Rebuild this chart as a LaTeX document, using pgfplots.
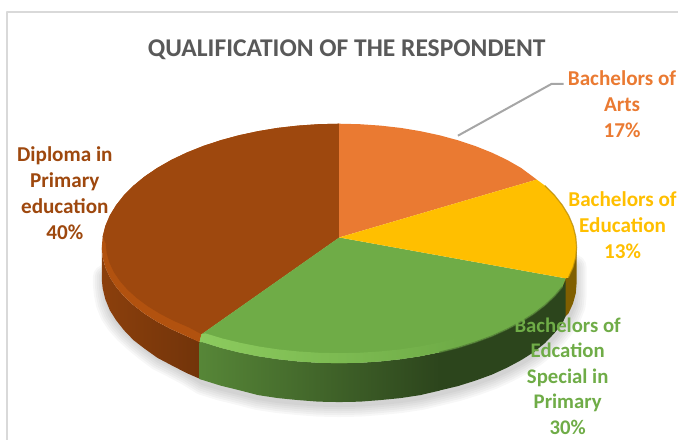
\documentclass[border=0pt]{standalone}
\usepackage{pgfplots}
\pgfplotsset{compat=1.18}
\usepackage{fontspec}
\setmainfont{Carlito}
\definecolor{cOrange}{HTML}{EA7A32}
\definecolor{cYellow}{HTML}{FFBF00}
\definecolor{cGreen}{HTML}{6FAC47}
\definecolor{cBrown}{HTML}{9E480E}
\definecolor{cTitle}{HTML}{595959}
\definecolor{cHigh}{HTML}{8CCB5E}
\definecolor{cBand}{HTML}{B2520F}
\begin{document}
\begin{tikzpicture}
\begin{axis}[
  width=680pt,height=441pt,scale only axis,
  xmin=0,xmax=680,ymin=0,ymax=441,y dir=reverse,
  axis line style={draw=none},ticks=none,clip=false,
  every axis plot/.append style={mark=none,line join=round},
]
% frame
\addplot[draw=black!15,line width=1.5pt] coordinates {(7,441) (7,12) (680,12)};
% shadow
\pgfplotsinvokeforeach{26,22,18,14,10,6}{
\addplot[draw=black,opacity=0.03,line width=#1pt,line cap=round] coordinates {(106,278) (106,284) (107,294) (109,304) (113,314) (119,323) (127,332) (137,341) (148,350) (160,359) (174,366) (189,374) (203.5,383) (221,388.5) (239.4,393) (258.6,398) (278.4,401) (298.7,403) (319.3,404.6) (340,405) (360.7,404.6) (381.3,403) (401.6,401) (421.4,398) (440.6,393.5) (459,389) (476.5,383.5) (493,377.5) (508.3,370.5) (522.3,363) (535,355) (546.1,346) (555.7,336) (563.6,326) (570,316) (574,306) (575,296) (575,284) (575,268)};
}
% yellow side
\addplot[draw=none,fill=cYellow!50!black] coordinates {(560,281) (569.9,278) (574.4,268.1) (577.1,258.1) (578,248) (578,283) (577.1,294) (574.4,304) (569.9,314) (567,317) (560,317)};
% brown side
\addplot[draw=none,left color=cBrown!88!black,right color=cBrown!72!black] coordinates {(201,343) (187,336.9) (171.7,330) (157.7,322.6) (145,314.5) (133.9,306) (124.3,297) (116.4,287.7) (110.1,278) (105.6,268.1) (102.9,258.1) (102,248) (102,280) (102.9,289) (105.6,300) (110.1,311) (116.4,321) (124.3,331) (133.9,341) (145,349.5) (157.7,358.6) (171.7,366) (187,373.9) (201,380)};
% green side, gradient part then dark part
\addplot[draw=none,left color=cGreen!78!black,right color=cGreen!40!black] coordinates {(200,343) (203.5,343) (221,348.5) (239.4,353.1) (258.6,357) (278.4,360) (298.7,362.2) (319.3,363.6) (340,364) (360.7,363.6) (381.3,362.2) (401.6,360) (421.4,357) (440.6,353.1) (440.6,391.5) (421.4,396) (401.6,399) (381.3,401) (360.7,402.6) (340,403) (319.3,402.6) (298.7,401) (278.4,399) (258.6,396) (239.4,391) (221,386.5) (203.5,381) (200,380)};
\addplot[draw=none,fill=cGreen!40!black] coordinates {(440,353.1) (459,348.5) (476.5,343) (493,336.9) (508.3,330) (522.3,322.6) (535,314.5) (546.1,306) (555.7,297) (563.6,287.7) (567,281) (567,317) (563.6,324) (555.7,334) (546.1,344) (535,353) (522.3,361) (508.3,368.5) (493,375.5) (476.5,381.5) (459,387) (440,391.5)};
% brown top: bevel then flat
\addplot[draw=none,fill=cBand] coordinates {(340,238) (202,335) (200,343) (187,336.9) (171.7,330) (157.7,322.6) (145,314.5) (133.9,306) (124.3,297) (116.4,287.7) (110.1,278) (105.6,268.1) (102.9,258.1) (102,248) (102.9,237.2) (105.6,226.5) (110.1,215.9) (116.4,205.6) (124.3,195.6) (133.9,186) (145,176.9) (157.7,168.3) (171.7,160.3) (187,153) (203.5,146.4) (221,140.6) (239.4,135.6) (258.6,131.5) (278.4,128.2) (298.7,125.9) (319.3,124.5) (340,124)};
\addplot[draw=none,fill=cBrown] coordinates {(340,238) (202,335) (189.6,328.3) (174.5,321.8) (160.7,314.7) (148.3,307.1) (137.4,299) (127.9,290.5) (120.1,281.6) (114,272.5) (109.6,263.1) (106.9,253.6) (106,244) (102.9,237.2) (105.6,226.5) (110.1,215.9) (116.4,205.6) (124.3,195.6) (133.9,186) (145,176.9) (157.7,168.3) (171.7,160.3) (187,153) (203.5,146.4) (221,140.6) (239.4,135.6) (258.6,131.5) (278.4,128.2) (298.7,125.9) (319.3,124.5) (340,124)};
% green top
\addplot[draw=none,fill=cGreen] coordinates {(340,238) (567,279) (563.6,287.7) (555.7,297) (546.1,306) (535,314.5) (522.3,322.6) (508.3,330) (493,336.9) (476.5,343) (459,348.5) (440.6,353.1) (421.4,357) (401.6,360) (381.3,362.2) (360.7,363.6) (340,364) (319.3,363.6) (298.7,362.2) (278.4,360) (258.6,357) (239.4,353.1) (221,348.5) (203.5,343) (200,343) (202,335)};
% green bevel highlight
\addplot[draw=none,left color=cHigh,right color=cGreen] coordinates {(202,335) (200,343) (203.5,343) (221,348.5) (239.4,353.1) (258.6,357) (278.4,360) (298.7,362.2) (319.3,363.6) (340,364) (360.7,363.6) (381.3,362.2) (401.6,360) (421.4,357) (440.6,353.1) (459,348.5) (457,339.3) (438.9,343.7) (420,347.4) (400.6,350.3) (380.6,352.3) (360.4,353.6) (340,354) (319.6,353.6) (299.4,352.3) (279.4,350.3) (260,347.4) (241.1,343.7) (223,339.3) (205.8,334.1)};
% orange top
\addplot[draw=none,fill=cOrange] coordinates {(340,238) (340,124) (360.7,124.5) (381.3,125.9) (401.6,128.2) (421.4,131.5) (440.6,135.6) (459,140.6) (476.5,146.4) (493,153) (508.3,160.3) (522.3,168.3) (538,180)};
% yellow top
\addplot[draw=none,fill=cYellow] coordinates {(340,238) (538,180) (546.1,186) (555.7,195.6) (563.6,205.6) (569.9,215.9) (574.4,226.5) (577.1,237.2) (578,248) (577.1,258.1) (574.4,268.1) (569.9,278) (567,279)};
% soft rim on yellow
\addplot[draw=cYellow!70!black,line width=1.2pt,opacity=0.7] coordinates {(546.1,186) (555.7,195.6) (563.6,205.6) (569.9,215.9) (574.4,226.5) (577.1,237.2) (578,248) (577.1,258.1) (574.4,268.1) (569.9,278)};
% soft rim on green front
\addplot[draw=cGreen!70!black,line width=1.5pt,opacity=0.7] coordinates {(563.6,287.7) (555.7,297) (546.1,306) (535,314.5) (522.3,322.6) (508.3,330) (493,336.9) (476.5,343) (459,348.5) (440.6,353.1)};
% leader
\addplot[draw=black!35,line width=2pt] coordinates {(459,136) (553,84) (565,84)};
% texts
\node[font=\fontsize{25.6}{30}\selectfont\bfseries,text=cTitle] at (axis cs:347.5,50) {QUALIFICATION OF THE RESPONDENT};
\node[font=\fontsize{21.2}{26}\selectfont\bfseries,text=cOrange,align=center] at (axis cs:623.5,104) {Bachelors of\\Arts\\17\%};
\node[font=\fontsize{21.2}{26}\selectfont\bfseries,text=cYellow,align=center] at (axis cs:624,226) {Bachelors of\\Education\\13\%};
\node[font=\fontsize{21.2}{26}\selectfont\bfseries,text=cBrown,align=center] at (axis cs:65,194) {Diploma in\\Primary\\education\\40\%};
\node[font=\fontsize{20.8}{25.6}\selectfont\bfseries,text=cGreen,align=center,inner sep=0pt] at (axis cs:569,377) {Bachelors of\\Edcation\\Special in\\Primary\\30\%};
\end{axis}
\end{tikzpicture}
\end{document}
